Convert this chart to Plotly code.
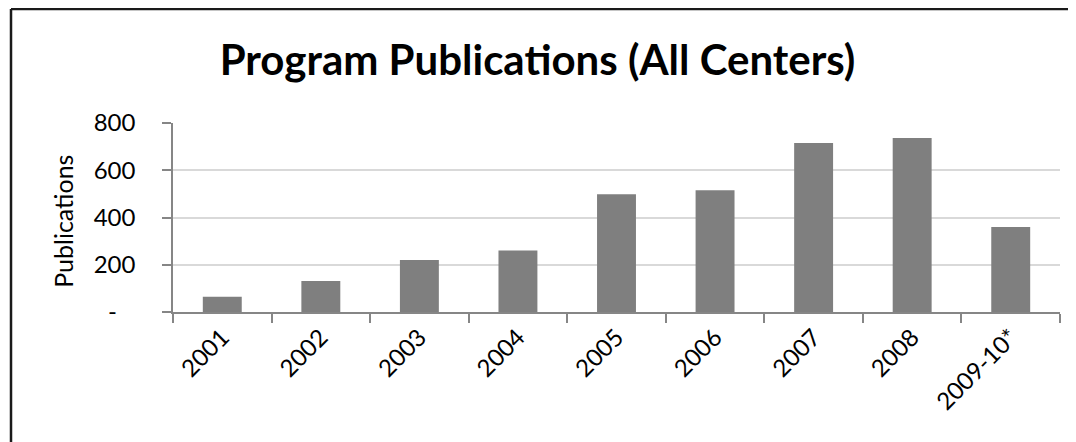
import plotly.graph_objects as go

categories = ["2001", "2002", "2003", "2004", "2005", "2006", "2007", "2008", "2009-10*"]
publications = [65, 131, 220, 260, 498, 515, 715, 736, 360]
y_tick_vals = [0, 200, 400, 600, 800]
y_tick_text = ["-\u00a0\u00a0\u00a0", "200", "400", "600", "800"]

# page body has an 8px margin; positions below are in figure coordinates
W, H = 1068, 434
L, T = 165, 115.3
plot_right, plot_bottom = 1052, 304
R = W - plot_right
B = H - plot_bottom
pw = plot_right - L
ph = plot_bottom - T

font_family = "Lato, Carlito, Calibri, sans-serif"

fig = go.Figure()
fig.add_trace(go.Bar(
    x=categories,
    y=publications,
    marker=dict(color="#7f7f7f", line=dict(width=0)),
))

border_x = (3 - L) / pw
border_y = 1 + (T - 1.5) / ph
far_right = 1 + (R + 60) / pw
far_bottom = -(B + 60) / ph

fig.update_layout(
    width=W, height=H,
    margin=dict(l=L, r=R, t=T, b=B, autoexpand=False),
    paper_bgcolor="white",
    plot_bgcolor="white",
    bargap=0.605,
    showlegend=False,
    font=dict(family=font_family, color="black", size=24),
    title=dict(
        text="<b>Program Publications (All Centers)</b>",
        x=529.5 / W, xanchor="center", xref="container",
        y=1 - 52.5 / H, yanchor="middle", yref="container",
        font=dict(family=font_family, size=42, color="black"),
    ),
    xaxis=dict(
        type="category",
        tickangle=-45,
        ticks="outside",
        tickson="boundaries",
        ticklen=9,
        tickcolor="#868686",
        tickwidth=1.5,
        showline=True,
        linecolor="#868686",
        linewidth=1.5,
        showgrid=False,
        tickfont=dict(family=font_family, size=24, color="black"),
    ),
    yaxis=dict(
        range=[0, 800],
        tickvals=y_tick_vals,
        ticktext=y_tick_text,
        ticks="outside",
        ticklen=9,
        tickcolor="#868686",
        tickwidth=1.5,
        showline=True,
        linecolor="#868686",
        linewidth=1.5,
        showgrid=True,
        gridcolor="#d9d9d9",
        gridwidth=1.5,
        zeroline=False,
        ticklabelstandoff=22,
        tickfont=dict(family=font_family, size=24, color="black"),
    ),
    annotations=[dict(
        text="Publications",
        xref="paper", yref="paper",
        x=(55 - L) / pw, y=(plot_bottom - 214) / ph,
        xanchor="center", yanchor="middle",
        textangle=-90,
        showarrow=False,
        font=dict(family=font_family, size=25, color="black"),
    )],
    shapes=[
        dict(type="line", xref="paper", yref="paper",
             x0=border_x, x1=far_right, y0=border_y, y1=border_y,
             line=dict(color="#1a1a1a", width=2.5), layer="above"),
        dict(type="line", xref="paper", yref="paper",
             x0=border_x, x1=border_x, y0=far_bottom, y1=border_y,
             line=dict(color="#1a1a1a", width=2.5), layer="above"),
    ],
)

fig.write_html("out.html")
